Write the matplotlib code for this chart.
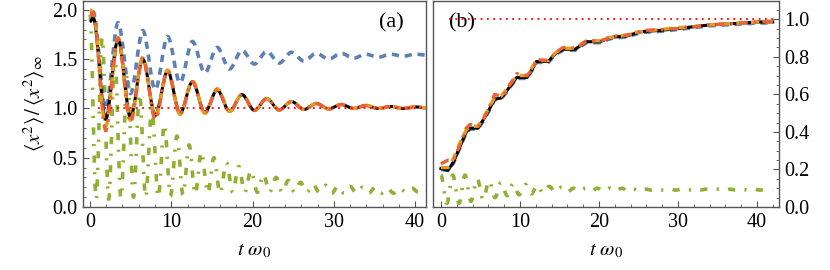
#!/usr/bin/env python3

import numpy as np
import matplotlib
matplotlib.use("Agg")
import matplotlib.pyplot as plt
from matplotlib.path import Path
from matplotlib.patches import PathPatch
from matplotlib.ticker import MultipleLocator

plt.rcParams['font.family'] = ['Liberation Serif', 'DejaVu Serif']
plt.rcParams['mathtext.fontset'] = 'stix'

BLUE = "#5E81B5"
ORANGE = "#E19C24"
GREEN = "#8FB032"
RED = "#EB6235"

# ---- panel (a): extrema of the oscillating curves ----
a_t = [0.0, 0.4, 1.93, 3.45, 4.98, 6.5, 8.03, 9.55, 11.08, 12.6, 14.13, 15.65,
       17.18, 18.7, 20.23, 21.75, 23.28, 24.8, 26.33, 27.85, 29.38, 30.9,
       32.43, 33.95, 35.48, 37.0, 38.53, 40.05, 41.58, 42.0]
a_black = [1.88, 1.92, 0.89, 1.70, 0.91, 1.50, 0.93, 1.38, 0.95, 1.27, 0.96, 1.19,
           0.97, 1.14, 0.98, 1.10, 0.985, 1.07, 0.99, 1.05, 0.995, 1.04,
           1.0, 1.03, 1.0, 1.02, 1.0, 1.015, 1.005, 1.01]
a_orange = [2.0, 1.97, 0.82, 1.72, 0.88, 1.52, 0.91, 1.39, 0.94, 1.28, 0.95, 1.20,
            0.97, 1.14, 0.98, 1.10, 0.985, 1.07, 0.99, 1.05, 0.995, 1.04,
            1.0, 1.03, 1.0, 1.02, 1.0, 1.015, 1.005, 1.01]
a_red = [1.95, 1.97, 0.78, 1.71, 0.86, 1.51, 0.89, 1.38, 0.94, 1.27, 0.95, 1.19,
         0.97, 1.14, 0.98, 1.10, 0.985, 1.07, 0.99, 1.05, 0.995, 1.04,
         1.0, 1.03, 1.0, 1.02, 1.0, 1.015, 1.005, 1.01]
a_blue = [1.98, 1.98, 1.0, 1.87, 1.15, 1.79, 1.19, 1.73, 1.26, 1.68, 1.36, 1.62,
          1.40, 1.59, 1.45, 1.58, 1.46, 1.57, 1.48, 1.56, 1.50, 1.56,
          1.51, 1.55, 1.52, 1.55, 1.53, 1.55, 1.54, 1.54]

green_peak_t = [0.0, 1.5, 3.05, 4.6, 6.1, 7.6, 9.15, 10.7, 12.2, 13.7, 15.25, 16.8,
                18.3, 19.8, 21.35, 22.9, 24.4, 25.9, 27.45, 29.0, 30.5, 32.0,
                33.55, 35.1, 36.6, 38.1, 39.65, 41.2]
green_trough_t = [0.75, 2.3, 3.8, 5.35, 6.85, 8.4, 9.9, 11.45, 12.95, 14.5, 16.0,
                  17.55, 19.05, 20.6, 22.1, 23.65, 25.15, 26.7, 28.2, 29.75, 31.25,
                  32.8, 34.3, 35.85, 37.35, 38.9, 40.4, 41.95]
a_green_peak = [1.95, 1.72, 1.55, 1.35, 1.15, 1.0, 0.84, 0.72, 0.63, 0.56, 0.50, 0.45,
                0.41, 0.37, 0.33, 0.30, 0.27, 0.25, 0.23, 0.22, 0.21, 0.21,
                0.20, 0.20, 0.19, 0.19, 0.19, 0.18]
a_green_trough = [0.08, 0.08, 0.09, 0.10, 0.10, 0.10, 0.11, 0.12, 0.13, 0.14, 0.14,
                  0.15, 0.15, 0.15, 0.15, 0.15, 0.15, 0.15, 0.15, 0.14, 0.14,
                  0.14, 0.14, 0.14, 0.14, 0.15, 0.15, 0.15]

# ---- panel (b) ----
b_t = [0, 0.9, 1.6, 2.4, 3.2, 3.7, 4.7, 5.3, 6.0, 6.8, 7.6, 8.2, 8.7, 9.6, 10.9,
       11.5, 12.1, 13.6, 14.1, 14.6, 15.5, 17.0, 17.7, 18.4, 20.1, 21.0, 21.8,
       23.5, 24.6, 25.6, 27.7, 29.9, 32.0, 34.1, 36.2, 38.3, 40.2, 42.0]
b_black = [0.205, 0.196, 0.24, 0.32, 0.40, 0.42, 0.42, 0.46, 0.51, 0.575, 0.58,
           0.61, 0.64, 0.69, 0.69, 0.73, 0.775, 0.775, 0.80, 0.82, 0.84, 0.84,
           0.86, 0.88, 0.88, 0.895, 0.905, 0.91, 0.925, 0.935, 0.94, 0.95, 0.96,
           0.97, 0.975, 0.98, 0.985, 0.985]
b_orange = [0.21, 0.21, 0.26, 0.34, 0.41, 0.43, 0.43, 0.47, 0.52, 0.585, 0.59,
            0.62, 0.65, 0.70, 0.70, 0.74, 0.78, 0.78, 0.805, 0.825, 0.845, 0.845,
            0.865, 0.885, 0.885, 0.90, 0.905, 0.915, 0.93, 0.935, 0.945, 0.955,
            0.96, 0.97, 0.975, 0.98, 0.985, 0.985]
b_red = [0.23, 0.25, 0.25, 0.33, 0.42, 0.44, 0.43, 0.46, 0.52, 0.60, 0.59, 0.61,
         0.65, 0.71, 0.70, 0.73, 0.785, 0.78, 0.80, 0.825, 0.85, 0.845, 0.86,
         0.885, 0.885, 0.895, 0.91, 0.915, 0.925, 0.94, 0.945, 0.95, 0.96, 0.97,
         0.975, 0.98, 0.985, 0.99]
b_blue = [0.20, 0.195, 0.235, 0.315, 0.395, 0.415, 0.415, 0.455, 0.505, 0.57, 0.575,
          0.605, 0.635, 0.685, 0.685, 0.725, 0.77, 0.77, 0.795, 0.815, 0.835, 0.835,
          0.855, 0.875, 0.875, 0.89, 0.90, 0.905, 0.92, 0.93, 0.935, 0.945, 0.955,
          0.965, 0.97, 0.975, 0.98, 0.98]
b_green_peak = [0.17, 0.17, 0.17, 0.15, 0.14, 0.13, 0.125, 0.12, 0.115, 0.11, 0.105,
                0.10, 0.10, 0.10, 0.10, 0.10, 0.095, 0.095, 0.095, 0.095, 0.095,
                0.095, 0.095, 0.095, 0.095, 0.095, 0.095, 0.095]
b_green_trough = [0.02, 0.02, 0.03, 0.04, 0.05, 0.06, 0.065, 0.07, 0.075, 0.08, 0.08,
                  0.085, 0.085, 0.085, 0.085, 0.085, 0.085, 0.09, 0.09, 0.09, 0.09,
                  0.09, 0.09, 0.09, 0.09, 0.09, 0.09, 0.09]


def interleave(t1, y1, t2, y2):
    t = np.concatenate([t1, t2])
    y = np.concatenate([y1, y2])
    o = np.argsort(t)
    return t[o], y[o]


def smooth(ax, t, y, **kw):
    # bezier through the extrema, flat tangent at each one
    verts = [(t[0], y[0])]
    codes = [Path.MOVETO]
    for i in range(1, len(t)):
        dt = t[i] - t[i - 1]
        verts += [(t[i - 1] + dt / 3, y[i - 1]), (t[i] - dt / 3, y[i]), (t[i], y[i])]
        codes += [Path.CURVE4] * 3
    p = PathPatch(Path(verts, codes), fill=False, capstyle='butt', joinstyle='round', **kw)
    ax.add_patch(p)


fig = plt.figure(figsize=(8.3, 2.7), dpi=100)
ax1 = fig.add_axes([0.1, 0.2333, 0.4133, 0.763])
ax2 = fig.add_axes([0.5217, 0.2333, 0.4169, 0.763])

dash = (0, (2.0, 1.6))
odash = (0, (2.4, 1.8))
dashdot = (0, (2.6, 1.8, 0.8, 1.8))
gdash = (0, (2.0, 2.6, 0.6, 2.6))

# (a)
ga_t, ga_y = interleave(green_peak_t, a_green_peak, green_trough_t, a_green_trough)
smooth(ax1, ga_t, ga_y, edgecolor=GREEN, lw=2.6, linestyle=gdash, zorder=2)
smooth(ax1, a_t, a_blue, edgecolor=BLUE, lw=2.6, linestyle=dash, zorder=2)
smooth(ax1, a_t, a_black, edgecolor='black', lw=2.2, zorder=3)
smooth(ax1, a_t, a_orange, edgecolor=ORANGE, lw=2.5, linestyle=odash, zorder=4)
smooth(ax1, a_t, a_red, edgecolor=RED, lw=2.4, linestyle=dashdot, zorder=5)
ax1.plot([1, 42], [1, 1], color='red', lw=1.3, ls=(0, (1, 2.5)), zorder=6)
ax1.set_xlim(-0.86, 41.35)
ax1.set_ylim(0, 2.09)
ax1.text(0.935, 0.94, "(a)", transform=ax1.transAxes, ha='right', va='top', fontsize=16)
ax1.set_ylabel(r"$\langle x^2\rangle\,/\,\langle x^2\rangle_\infty$", fontsize=15, labelpad=4)
ax1.yaxis.set_major_locator(MultipleLocator(0.5))
ax1.yaxis.set_minor_locator(MultipleLocator(0.1))

# (b)
gb_t, gb_y = interleave(green_peak_t, b_green_peak, green_trough_t, b_green_trough)
smooth(ax2, gb_t, gb_y, edgecolor=GREEN, lw=2.6, linestyle=gdash, zorder=2)
ax2.plot(b_t, b_blue, color=BLUE, lw=2.6, ls=dash, zorder=2)
ax2.plot(b_t, b_black, color='black', lw=2.2, zorder=3)
ax2.plot(b_t, b_orange, color=ORANGE, lw=2.5, ls=odash, zorder=4)
ax2.plot(b_t, b_red, color=RED, lw=2.4, ls=dashdot, zorder=5)
ax2.plot([1, 42], [1, 1], color='red', lw=1.3, ls=(0, (1, 2.5)), zorder=6)
ax2.set_xlim(-1.0, 42.8)
ax2.set_ylim(0, 1.097)
ax2.text(0.045, 0.94, "(b)", transform=ax2.transAxes, ha='left', va='top', fontsize=16)
ax2.yaxis.tick_right()
ax2.yaxis.set_major_locator(MultipleLocator(0.2))
ax2.yaxis.set_minor_locator(MultipleLocator(0.05))

for ax in (ax1, ax2):
    ax.set_xlabel(r"$t\ \omega_0$", fontsize=15, labelpad=7)
    ax.xaxis.set_major_locator(MultipleLocator(10))
    ax.xaxis.set_minor_locator(MultipleLocator(2))
    ax.tick_params(which='both', direction='in', color='#555555', labelsize=14.5, pad=4)
    ax.tick_params(which='major', length=4, width=0.8)
    ax.tick_params(which='minor', length=2, width=0.6)
    for s in ax.spines.values():
        s.set_color('#555555')
        s.set_linewidth(1.0)

fig.savefig("out.png", dpi=100)
